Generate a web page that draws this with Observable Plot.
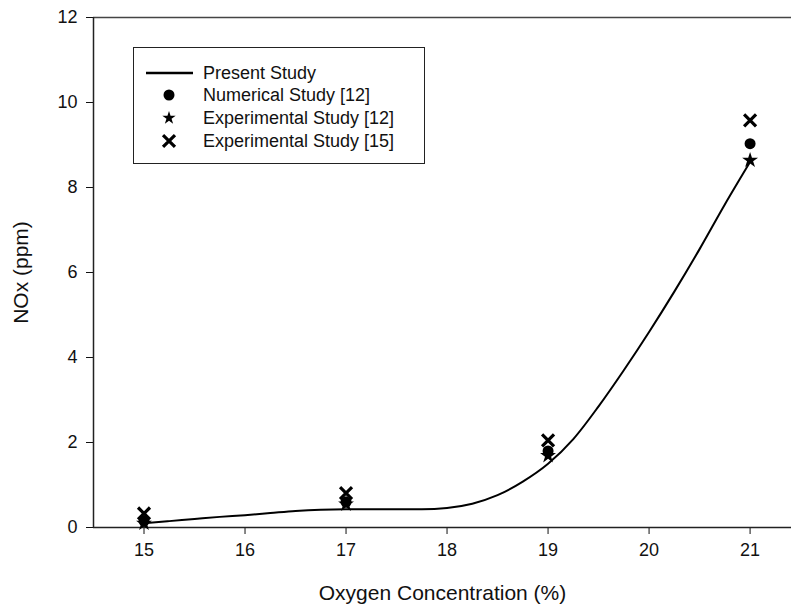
<!DOCTYPE html>
<html>
<head>
<meta charset="utf-8">
<script src="https://cdn.jsdelivr.net/npm/d3@7"></script>
<script src="https://cdn.jsdelivr.net/npm/@observablehq/plot@0.6"></script>
<style>
  html, body { margin: 0; padding: 0; background: #fff; }
  #wrap { position: relative; width: 791px; height: 613px; font-family: "Liberation Sans", Arial, sans-serif; }
  #legend { position: absolute; left: 133px; top: 47px; width: 292px; height: 117px; border: 1.3px solid #222; background: #fff; box-sizing: border-box; }
  .row { position: absolute; left: 0; height: 22px; font-size: 18px; color: #111; }
  .row svg { position: absolute; left: 0; top: 0; }
  .row span { position: absolute; left: 69px; white-space: nowrap; line-height: 22px; top: 0; }
</style>
</head>
<body>
<div id="wrap"></div>
<script>
// ---- data ----
const presentX = [15, 15.25, 15.5, 15.75, 16, 16.25, 16.5, 16.75, 17, 17.5, 17.75, 18, 18.25, 18.5, 18.75, 19, 19.25, 19.5, 19.75, 20, 20.25, 20.5, 20.75, 21];
const presentY = [0.1, 0.15, 0.2, 0.25, 0.29, 0.34, 0.39, 0.42, 0.43, 0.43, 0.43, 0.46, 0.56, 0.76, 1.08, 1.5, 2.08, 2.85, 3.7, 4.6, 5.55, 6.55, 7.6, 8.6];
const studyX = [15, 17, 19, 21];
const numerical12 = [0.15, 0.6, 1.8, 9.03];
const experimental12 = [0.1, 0.55, 1.69, 8.64];
const experimental15 = [0.33, 0.81, 2.05, 9.58];
const xTicks = [15, 16, 17, 18, 19, 20, 21];
const yTicks = [0, 2, 4, 6, 8, 10, 12];
const legendLabels = ["Present Study", "Numerical Study [12]", "Experimental Study [12]", "Experimental Study [15]"];

const lineData = presentX.map((x, i) => ({x, y: presentY[i]}));
const num = studyX.map((x, i) => ({x, y: numerical12[i]}));
const exp12 = studyX.map((x, i) => ({x, y: experimental12[i]}));
const exp15 = studyX.map((x, i) => ({x, y: experimental15[i]}));

const chart = Plot.plot({
  width: 791,
  height: 613,
  marginLeft: 93,
  marginRight: 0,
  marginTop: 17,
  marginBottom: 86,
  style: { fontFamily: "Liberation Sans, Arial, sans-serif", fontSize: "18px", color: "#111", background: "#fff" },
  x: { domain: [14.5, 21.41], ticks: xTicks, tickFormat: d3.format("d"), tickSize: 7, tickPadding: 9, label: "Oxygen Concentration (%)", labelAnchor: "center", labelOffset: 72, labelArrow: "none" },
  y: { domain: [0, 12], ticks: yTicks, tickFormat: d3.format("d"), tickSize: 7, tickPadding: 9, label: "NOx (ppm)", labelAnchor: "center", labelOffset: 80, labelArrow: "none" },
  marks: [
    Plot.ruleY([0], {stroke: "#222", strokeWidth: 1.5}),
    Plot.ruleY([12], {stroke: "#444", strokeWidth: 1.5}),
    Plot.ruleX([14.5], {stroke: "#222", strokeWidth: 1.5}),
    Plot.line(lineData, {x: "x", y: "y", curve: "monotone-x", stroke: "#000", strokeWidth: 2}),
    Plot.dot(exp15, {x: "x", y: "y", symbol: "times", r: 5.5, stroke: "#000", strokeWidth: 3.2}),
    Plot.dot(num, {x: "x", y: "y", symbol: "circle", r: 5.5, fill: "#000", stroke: "none"}),
    Plot.dot(exp12, {x: "x", y: "y", symbol: "star", r: 5, fill: "#000", stroke: "none"})
  ]
});
chart.querySelectorAll('[aria-label="x-axis label"] text, [aria-label="y-axis label"] text').forEach(t => t.setAttribute("font-size", "21px"));
document.getElementById("wrap").appendChild(chart);

// ---- legend ----
const legend = document.createElement("div");
legend.id = "legend";
const symbols = [null, d3.symbolCircle, d3.symbolStar, d3.symbolTimes];
const rowTops = [14, 36, 59, 82];
legendLabels.forEach((lab, i) => {
  const row = document.createElement("div");
  row.className = "row";
  row.style.top = rowTops[i] + "px";
  row.style.width = "290px";
  let icon;
  if (i === 0) {
    icon = `<svg width="70" height="22"><line x1="12" x2="59" y1="11" y2="11" stroke="#000" stroke-width="2.5"/></svg>`;
  } else if (i === 3) {
    const p = d3.symbol(symbols[i], 95)();
    icon = `<svg width="70" height="22"><path transform="translate(35,11)" d="${p}" fill="none" stroke="#000" stroke-width="3.2"/></svg>`;
  } else {
    const p = d3.symbol(symbols[i], i === 1 ? 95 : 55)();
    icon = `<svg width="70" height="22"><path transform="translate(35,11)" d="${p}" fill="#000"/></svg>`;
  }
  row.innerHTML = icon + `<span>${lab}</span>`;
  legend.appendChild(row);
});
document.getElementById("wrap").appendChild(legend);
</script>
</body>
</html>
